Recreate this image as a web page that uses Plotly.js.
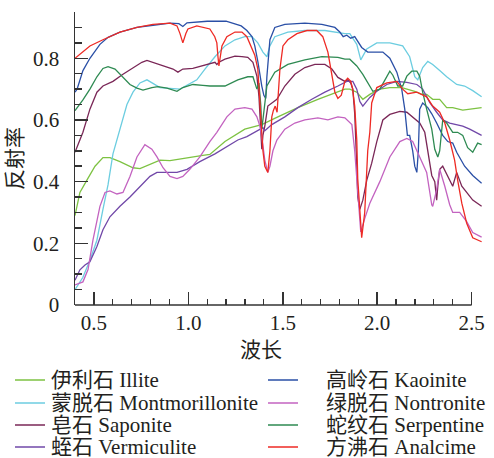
<!DOCTYPE html>
<html>
<head>
<meta charset="utf-8">
<script src="https://cdn.plot.ly/plotly-3.0.1.min.js"></script>
<style>html,body{margin:0;padding:0;background:#fff;}#chart{width:494px;height:458px;}</style>
</head>
<body>
<div id="chart"></div>
<script>
// ---- series names and colours ----
const seriesCN = ['伊利石','蒙脱石','皂石','蛭石','高岭石','绿脱石','蛇纹石','方沸石'];
const seriesEN = ['Illite','Montmorillonite','Saponite','Vermiculite','Kaoinite','Nontronite','Serpentine','Analcime'];
const seriesColors = ['#7dc242','#6ccde0','#7a2757','#7148a8','#2a4fa6','#c363c0','#2e8a52','#ee2a24'];

// ---- data (wavelength in µm, reflectance) ----
const illiteX = [0.400,0.426,0.463,0.506,0.548,0.585,0.638,0.707,0.744,0.797,0.850,0.903,0.993,1.077,1.114,1.194,1.299,1.389,1.474,1.580,1.686,1.792,1.829,1.855,1.892,1.924,1.961,2.014,2.067,2.130,2.199,2.236,2.262,2.294,2.331,2.368,2.400,2.453,2.506,2.553];
const illiteY = [0.29,0.365,0.405,0.45,0.478,0.478,0.465,0.445,0.442,0.455,0.47,0.468,0.478,0.485,0.488,0.53,0.57,0.585,0.61,0.64,0.667,0.693,0.70,0.70,0.69,0.667,0.683,0.70,0.705,0.705,0.693,0.683,0.683,0.667,0.667,0.64,0.64,0.632,0.635,0.64];

const montX = [0.400,0.442,0.479,0.516,0.548,0.575,0.601,0.638,0.675,0.707,0.744,0.781,0.850,0.956,1.045,1.088,1.141,1.194,1.247,1.299,1.337,1.368,1.395,1.416,1.432,1.458,1.527,1.617,1.723,1.829,1.855,1.892,1.913,1.945,1.998,2.067,2.135,2.172,2.199,2.215,2.241,2.268,2.294,2.331,2.368,2.421,2.463,2.506,2.553];
const montY = [0.05,0.09,0.145,0.21,0.31,0.39,0.49,0.57,0.65,0.69,0.72,0.73,0.705,0.70,0.73,0.765,0.805,0.84,0.86,0.87,0.87,0.85,0.82,0.805,0.84,0.87,0.885,0.89,0.89,0.88,0.88,0.845,0.795,0.83,0.85,0.85,0.84,0.805,0.74,0.73,0.77,0.79,0.78,0.76,0.74,0.715,0.71,0.695,0.675];

const saponiteX = [0.400,0.442,0.479,0.516,0.548,0.601,0.654,0.707,0.754,0.781,0.813,0.866,0.919,0.945,0.971,1.024,1.077,1.114,1.141,1.151,1.162,1.194,1.247,1.284,1.315,1.342,1.363,1.374,1.384,1.389,1.395,1.405,1.421,1.469,1.511,1.564,1.617,1.670,1.723,1.760,1.792,1.829,1.844,1.860,1.871,1.881,1.892,1.897,1.908,1.924,1.945,1.971,1.998,2.030,2.067,2.120,2.157,2.188,2.225,2.252,2.268,2.289,2.305,2.315,2.321,2.331,2.347,2.374,2.400,2.421,2.448,2.474,2.506,2.553];
const saponiteY = [0.495,0.56,0.635,0.69,0.71,0.725,0.748,0.77,0.787,0.793,0.787,0.775,0.765,0.755,0.765,0.767,0.775,0.783,0.787,0.78,0.787,0.797,0.807,0.805,0.803,0.787,0.742,0.676,0.58,0.505,0.55,0.58,0.645,0.667,0.71,0.748,0.77,0.78,0.78,0.765,0.738,0.725,0.73,0.72,0.70,0.62,0.45,0.35,0.31,0.34,0.405,0.46,0.53,0.60,0.618,0.628,0.625,0.61,0.59,0.56,0.505,0.42,0.40,0.34,0.385,0.44,0.45,0.415,0.385,0.43,0.385,0.365,0.34,0.32];

const vermX = [0.400,0.426,0.453,0.479,0.516,0.548,0.585,0.638,0.691,0.744,0.797,0.834,0.887,0.940,0.993,1.061,1.141,1.194,1.262,1.310,1.337,1.379,1.395,1.405,1.442,1.511,1.580,1.654,1.723,1.792,1.839,1.871,1.892,1.908,1.924,1.961,1.998,2.051,2.104,2.157,2.210,2.241,2.278,2.315,2.347,2.384,2.421,2.453,2.490,2.553];
const vermY = [0.08,0.114,0.13,0.14,0.19,0.244,0.286,0.32,0.35,0.385,0.417,0.43,0.43,0.43,0.44,0.465,0.49,0.51,0.535,0.546,0.555,0.57,0.575,0.565,0.585,0.61,0.64,0.667,0.69,0.71,0.725,0.725,0.70,0.66,0.645,0.673,0.693,0.715,0.725,0.722,0.715,0.70,0.657,0.625,0.60,0.59,0.585,0.58,0.57,0.55];

const kaoX = [0.400,0.411,0.442,0.479,0.532,0.575,0.638,0.728,0.813,0.903,0.950,0.971,0.993,1.100,1.200,1.240,1.280,1.310,1.337,1.352,1.368,1.389,1.400,1.410,1.416,1.432,1.458,1.511,1.617,1.707,1.776,1.802,1.820,1.839,1.860,1.881,1.897,1.918,1.950,1.998,2.030,2.067,2.104,2.130,2.146,2.160,2.172,2.188,2.199,2.210,2.218,2.225,2.241,2.268,2.289,2.315,2.347,2.374,2.400,2.421,2.463,2.506,2.553];
const kaoY = [0.69,0.70,0.76,0.80,0.845,0.868,0.885,0.90,0.907,0.914,0.912,0.903,0.915,0.92,0.92,0.912,0.905,0.89,0.87,0.84,0.79,0.71,0.68,0.67,0.74,0.86,0.90,0.91,0.914,0.91,0.90,0.885,0.87,0.875,0.865,0.87,0.855,0.835,0.82,0.82,0.82,0.80,0.755,0.70,0.635,0.55,0.55,0.50,0.45,0.43,0.50,0.635,0.655,0.64,0.62,0.59,0.55,0.53,0.525,0.495,0.45,0.42,0.395];

const nontX = [0.400,0.442,0.469,0.495,0.532,0.559,0.585,0.622,0.654,0.691,0.728,0.770,0.807,0.834,0.866,0.903,0.940,0.971,1.008,1.061,1.114,1.151,1.204,1.247,1.299,1.337,1.363,1.379,1.389,1.405,1.421,1.432,1.448,1.469,1.511,1.564,1.617,1.686,1.739,1.792,1.829,1.866,1.881,1.897,1.913,1.934,1.961,2.014,2.067,2.120,2.157,2.188,2.215,2.241,2.262,2.289,2.294,2.315,2.331,2.358,2.384,2.400,2.437,2.474,2.506,2.553];
const nontY = [0.065,0.075,0.115,0.21,0.32,0.365,0.37,0.36,0.365,0.417,0.48,0.52,0.505,0.48,0.445,0.417,0.41,0.417,0.44,0.48,0.53,0.56,0.61,0.635,0.64,0.635,0.61,0.58,0.546,0.47,0.43,0.45,0.50,0.535,0.57,0.59,0.60,0.607,0.60,0.61,0.607,0.585,0.50,0.35,0.237,0.28,0.33,0.40,0.48,0.53,0.54,0.53,0.495,0.46,0.43,0.325,0.32,0.375,0.44,0.385,0.325,0.30,0.30,0.27,0.235,0.22];

const serpX = [0.400,0.442,0.479,0.516,0.548,0.575,0.612,0.654,0.691,0.728,0.760,0.807,0.839,0.887,0.940,0.971,1.024,1.077,1.114,1.194,1.262,1.315,1.342,1.363,1.368,1.374,1.384,1.389,1.395,1.405,1.416,1.458,1.527,1.617,1.707,1.792,1.829,1.855,1.892,1.924,1.961,1.977,2.014,2.040,2.067,2.083,2.109,2.135,2.157,2.183,2.210,2.225,2.241,2.262,2.289,2.305,2.321,2.331,2.347,2.368,2.400,2.426,2.453,2.479,2.506,2.532,2.553];
const serpY = [0.63,0.665,0.70,0.74,0.767,0.773,0.765,0.738,0.715,0.703,0.697,0.705,0.708,0.703,0.693,0.705,0.715,0.712,0.71,0.71,0.73,0.74,0.74,0.70,0.71,0.72,0.645,0.57,0.60,0.65,0.71,0.755,0.78,0.795,0.805,0.803,0.797,0.797,0.775,0.748,0.71,0.693,0.70,0.73,0.758,0.745,0.71,0.71,0.742,0.758,0.758,0.742,0.69,0.635,0.57,0.505,0.48,0.50,0.60,0.59,0.56,0.56,0.55,0.51,0.495,0.525,0.52];

const analX = [0.400,0.479,0.548,0.638,0.728,0.813,0.903,0.940,0.956,0.971,0.987,0.998,1.045,1.114,1.140,1.151,1.157,1.162,1.178,1.204,1.247,1.284,1.310,1.337,1.352,1.368,1.384,1.395,1.405,1.421,1.432,1.442,1.450,1.460,1.470,1.485,1.501,1.527,1.575,1.628,1.680,1.712,1.739,1.760,1.776,1.792,1.810,1.829,1.844,1.860,1.870,1.881,1.892,1.897,1.908,1.918,1.934,1.950,1.961,1.971,1.998,2.051,2.104,2.135,2.162,2.210,2.262,2.294,2.331,2.358,2.384,2.410,2.426,2.448,2.474,2.506,2.553];
const analY = [0.80,0.84,0.86,0.885,0.90,0.91,0.914,0.905,0.88,0.85,0.88,0.895,0.905,0.895,0.87,0.85,0.805,0.775,0.84,0.87,0.885,0.885,0.87,0.83,0.81,0.765,0.60,0.50,0.45,0.43,0.50,0.61,0.63,0.645,0.625,0.765,0.84,0.86,0.88,0.89,0.89,0.87,0.82,0.74,0.69,0.67,0.68,0.725,0.735,0.725,0.70,0.645,0.535,0.41,0.30,0.218,0.30,0.50,0.56,0.655,0.705,0.72,0.725,0.70,0.685,0.69,0.675,0.645,0.625,0.59,0.535,0.47,0.405,0.33,0.265,0.218,0.205];

const xData = [illiteX, montX, saponiteX, vermX, kaoX, nontX, serpX, analX];
const yData = [illiteY, montY, saponiteY, vermY, kaoY, nontY, serpY, analY];

// ---- axis ticks ----
const xTickVals = [0.5, 1.0, 1.5, 2.0, 2.5];
const xTickText = ['0.5', '1.0', '1.5', '2.0', '2.5'];
const yTickVals = [0, 0.2, 0.4, 0.6, 0.8];
const yTickText = ['0', '0.2', '0.4', '0.6', '0.8'];

// ---- layout geometry (pixels) ----
const W = 494, H = 458;
const M = {l: 75, r: 12, t: 12, b: 153};
const PW = W - M.l - M.r, PH = H - M.t - M.b;
const px = x => (x - M.l) / PW;
const py = y => (H - M.b - y) / PH;

const serif = 'Liberation Serif, Noto Sans CJK SC, serif';
const axisColor = '#333333';
const textColor = '#231f20';

const traces = xData.map((xs, i) => ({
  type: 'scatter', mode: 'lines',
  x: xs, y: yData[i],
  name: seriesCN[i] + ' ' + seriesEN[i],
  line: {color: seriesColors[i], width: 1.3},
  showlegend: false, hoverinfo: 'x+y+name'
}));

// legend built from names/colours (two columns of four)
const shapes = [];
const annotations = [];
const rowY = [380, 403, 425, 447];
seriesCN.forEach((cn, i) => {
  const col = i < 4 ? 0 : 1, row = i % 4;
  const lx0 = col === 0 ? 15 : 268, lx1 = col === 0 ? 45 : 298;
  const tx = col === 0 ? 49 : 324;
  shapes.push({type: 'line', xref: 'paper', yref: 'paper',
    x0: px(lx0), x1: px(lx1), y0: py(rowY[row]), y1: py(rowY[row]),
    line: {color: seriesColors[i], width: 1.5}});
  annotations.push({xref: 'paper', yref: 'paper', x: px(tx), y: py(rowY[row]),
    xanchor: 'left', yanchor: 'middle', showarrow: false,
    text: cn + ' ' + seriesEN[i],
    font: {family: serif, size: 21, color: textColor}});
});
// x-axis line stops at 2.5 as in the original
shapes.push({type: 'line', xref: 'x', yref: 'paper', x0: 0.4, x1: 2.5, y0: 0, y1: 0,
  line: {color: axisColor, width: 1.5}});
// x-axis title
annotations.push({xref: 'paper', yref: 'paper', x: px(261), y: py(350),
  xanchor: 'center', yanchor: 'middle', showarrow: false, text: '波长',
  font: {family: serif, size: 21, color: textColor}});

const layout = {
  width: W, height: H,
  margin: M,
  paper_bgcolor: '#fff', plot_bgcolor: '#fff',
  showlegend: false,
  font: {family: serif, size: 21, color: textColor},
  xaxis: {
    range: [0.4, 2.555], showline: false, showgrid: false, zeroline: false,
    tickmode: 'array', tickvals: xTickVals, ticktext: xTickText,
    ticks: 'inside', ticklen: 13, tickwidth: 1.5, tickcolor: axisColor,
    ticklabelstandoff: 3,
    minor: {dtick: 0.1, tick0: 0, ticks: 'inside', ticklen: 6, tickwidth: 1.2, tickcolor: axisColor, showgrid: false},
    tickfont: {family: serif, size: 21, color: textColor}
  },
  yaxis: {
    range: [0, 0.95], showline: true, linecolor: axisColor, linewidth: 1.5,
    showgrid: false, zeroline: false,
    tickmode: 'array', tickvals: yTickVals, ticktext: yTickText,
    ticks: 'inside', ticklen: 13, tickwidth: 1.5, tickcolor: axisColor,
    ticklabelstandoff: 10,
    minor: {dtick: 0.05, tick0: 0, ticks: 'inside', ticklen: 7, tickwidth: 1.5, tickcolor: axisColor, showgrid: false},
    tickfont: {family: serif, size: 21, color: textColor},
    title: {text: '反射率', font: {family: serif, size: 21, color: textColor}, standoff: 4}
  },
  shapes: shapes,
  annotations: annotations
};

Plotly.newPlot('chart', traces, layout, {displayModeBar: false, staticPlot: true});
</script>
</body>
</html>
